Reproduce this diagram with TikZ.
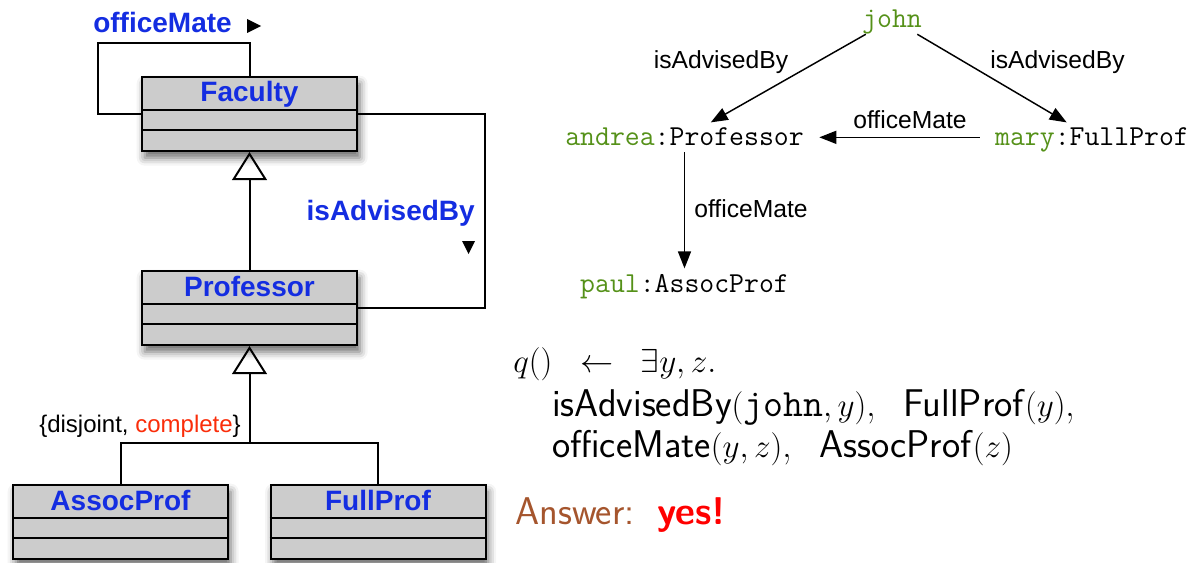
\documentclass[tikz,border=0pt]{standalone}
\usepackage{fontspec}
\newfontfamily\helv{Liberation Sans}
\usetikzlibrary{arrows.meta,shadows.blur,calc}

\definecolor{classblue}{RGB}{20,45,225}
\definecolor{objgreen}{RGB}{85,145,25}
\definecolor{compred}{RGB}{250,45,10}
\definecolor{answerbrown}{RGB}{165,85,45}
\definecolor{yesred}{RGB}{255,0,0}
\definecolor{boxgray}{RGB}{204,204,204}

% one UML class: #1 node name, #2 centre x, #3 top y, #4 class name
\newcommand\umlclass[4]{%
  \node[classbox] (#1) at (#2,{#3+37}) {};
  \node[classname] (#1-name) at (#2,{#3+25}) {#4};
  \draw[umlline] ($(#1.north west)+(0,34)$) -- ($(#1.north east)+(0,34)$);
  \draw[umlline] ($(#1.north west)+(0,54)$) -- ($(#1.north east)+(0,54)$);
}

\begin{document}
\begin{tikzpicture}[x=0.75pt,y=-0.75pt,
  umlline/.style={line width=1.5pt},
  classbox/.style={draw, line width=1.5pt, fill=boxgray,
    minimum width=161.25pt, minimum height=55.5pt, inner sep=0pt,
    blur shadow={shadow xshift=2pt, shadow yshift=-5pt,
      shadow blur radius=6pt, shadow opacity=60}},
  classname/.style={font=\helv\bfseries\fontsize{21}{25}\selectfont,
    text=classblue, anchor=base, inner sep=0pt},
  assoclabel/.style={font=\helv\bfseries\fontsize{21}{25}\selectfont,
    text=classblue, inner sep=0pt},
  genarrow/.style={umlline, -{Triangle[open, length=21pt, width=26pt]}},
  objname/.style={font=\ttfamily\fontsize{21.7}{24}\selectfont, anchor=base,
    inner xsep=11.5pt, inner ysep=3pt, text height=14.5pt, text depth=1.5pt},
  objarrow/.style={line width=1.1pt, -{Triangle[length=12.75pt, width=9.75pt]}},
  edgelabel/.style={font=\helv\fontsize{18.5}{22}\selectfont, anchor=base,
    inner sep=0pt},
  qline/.style={font=\fontsize{29}{33}\selectfont, anchor=base west, inner sep=0pt}
]
\path[use as bounding box] (0,0) rectangle (1194,563);

% ---- class diagram ----
\umlclass{faculty}{249.5}{77}{Faculty}
\umlclass{professor}{249.5}{271}{Professor}
\umlclass{assocprof}{120.5}{485}{AssocProf}
\umlclass{fullprof}{378}{485}{FullProf}

% officeMate self association
\coordinate (omcorner) at (98,43);
\draw[umlline] (faculty.north) |- (omcorner) |- (faculty.west);
\node[assoclabel, anchor=base west] (omlabel) at (93,33) {officeMate};
\fill (247,19) -- (261,26) -- (247,33) -- cycle;

% isAdvisedBy association
\coordinate (iaright) at (485,0);
\draw[umlline] (faculty.east) -- (faculty.east -| iaright) |- (professor.east);
\node[assoclabel, anchor=base east] (ialabel) at (475,220) {isAdvisedBy};
\fill (462,241) -- (475,241) -- (468.5,254) -- cycle;

% generalisations
\draw[genarrow] (professor.north) -- (faculty.south);
\coordinate (genjoin) at (249.5,443);
\draw[genarrow] (genjoin) -- (professor.south);
\draw[umlline] (assocprof.north) |- (genjoin) -| (fullprof.north);
\node[font=\helv\fontsize{18}{22}\selectfont, anchor=base east, inner sep=0pt]
  (genlabel) at (241,432) {\{disjoint, \textcolor{compred}{complete}\}};

% ---- object graph ----
\node[objname] (john) at (892,28) {\textcolor{objgreen}{john}};
\node[objname] (andrea) at (684.5,146) {\textcolor{objgreen}{andrea}:Professor};
\node[objname] (mary) at (1092,146) {\textcolor{objgreen}{mary}:FullProf};
\node[objname] (paul) at (684.5,292) {\textcolor{objgreen}{paul}:AssocProf};

\draw[objarrow] (john) -- (andrea);
\draw[objarrow] (john) -- (mary);
\draw[objarrow] (mary) -- (andrea);
\draw[objarrow] (andrea) -- (paul);

\node[edgelabel] (l1) at (721,69) {isAdvisedBy};
\node[edgelabel] (l2) at (1057.5,69) {isAdvisedBy};
\node[edgelabel] (l3) at (910,128) {officeMate};
\node[edgelabel] (l4) at (751,217) {officeMate};

% ---- query ----
\node[qline] (q1) at (513,372) {$q()\;\;\leftarrow\;\;\exists y,z.$};
\node[qline] (q2) at (552,416)
  {\textsf{isAdvisedBy}$(\mathtt{john},y)$,\hspace{0.7em}\textsf{FullProf}$(y)$,};
\node[qline] (q3) at (552,457)
  {\textsf{officeMate}$(y,z)$,\hspace{0.7em}\textsf{AssocProf}$(z)$};
\node[qline] (ans) at (515,524)
  {\textcolor{answerbrown}{\textsf{Answer:}}\hspace{0.6em}\textcolor{yesred}{\textsf{\bfseries yes!}}};
\end{tikzpicture}
\end{document}
